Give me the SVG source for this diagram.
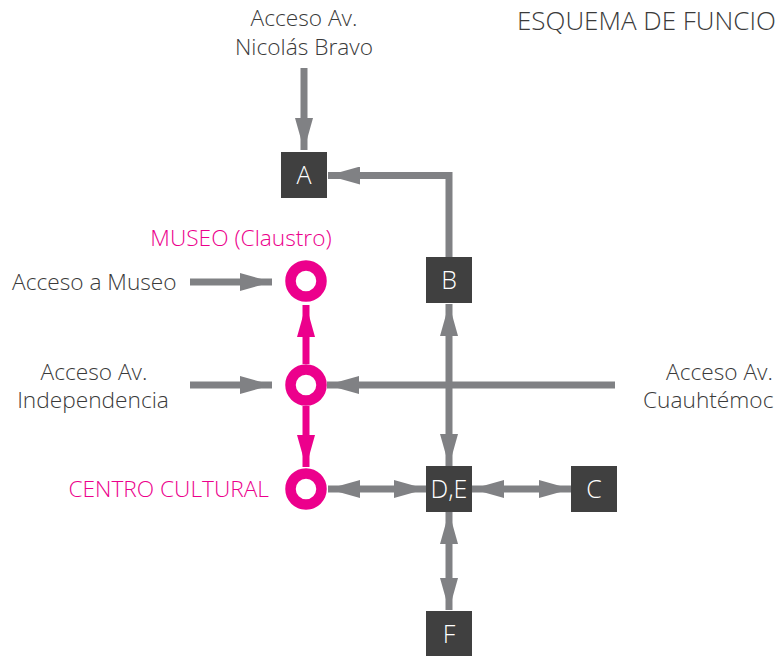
<svg xmlns="http://www.w3.org/2000/svg" width="782" height="656" viewBox="0 0 782 656">
<defs>
<style>
.lbl{font-family:"Open Sans","Noto Sans","DejaVu Sans",sans-serif;font-weight:300;font-size:22.7px;fill:#3a3a3a}
.pk{fill:#ec008c}
.box{fill:#404040}
.bt{font-family:"Open Sans","Noto Sans","DejaVu Sans",sans-serif;font-weight:300;font-size:25px;fill:#ffffff;text-anchor:middle}
.g{stroke:#808184;stroke-width:7;fill:none}
.gp{stroke:#ec008c;stroke-width:7;fill:none}
.ring{fill:none;stroke:#ec008c;stroke-width:10.5}
</style>
<marker id="ag" viewBox="0 0 32 18" refX="32" refY="9" markerWidth="32" markerHeight="18" markerUnits="userSpaceOnUse" orient="auto-start-reverse">
<path d="M0,0 L32,9 L0,18 Z" fill="#808184"/>
</marker>
<marker id="ap" viewBox="0 0 32 18" refX="32" refY="9" markerWidth="32" markerHeight="18" markerUnits="userSpaceOnUse" orient="auto-start-reverse">
<path d="M0,0 L32,9 L0,18 Z" fill="#ec008c"/>
</marker>
</defs>
<rect width="782" height="656" fill="#ffffff"/>

<text class="lbl" x="517" y="30" style="font-size:26px">ESQUEMA DE FUNCIO</text>

<g id="connectors">
<path class="g" d="M304,68 L304,150" marker-end="url(#ag)"/>
<path class="g" d="M449,258 L449,175.5 L328,175.5" marker-end="url(#ag)"/>
<path class="g" d="M190,282 L272,282" marker-end="url(#ag)"/>
<path class="g" d="M190,385 L272,385" marker-end="url(#ag)"/>
<path class="g" d="M615,385 L327,385" marker-end="url(#ag)"/>
<path class="g" d="M449,304 L449,466" marker-start="url(#ag)" marker-end="url(#ag)"/>
<path class="g" d="M328,489 L426,489" marker-start="url(#ag)" marker-end="url(#ag)"/>
<path class="g" d="M472,489 L571,489" marker-start="url(#ag)" marker-end="url(#ag)"/>
<path class="g" d="M449,512 L449,610" marker-start="url(#ag)" marker-end="url(#ag)"/>
<path class="gp" d="M306,364 L306,305" marker-end="url(#ap)"/>
<path class="gp" d="M306,406 L306,467" marker-end="url(#ap)"/>
</g>

<g id="label-nicolas">
<text class="lbl" x="304" y="26" text-anchor="middle">Acceso Av.</text>
<text class="lbl" x="304" y="55" text-anchor="middle">Nicolás Bravo</text>
</g>
<g id="label-acceso-museo">
<text class="lbl" x="12" y="290">Acceso a Museo</text>
</g>
<g id="label-independencia">
<text class="lbl" x="94" y="380" text-anchor="middle">Acceso Av.</text>
<text class="lbl" x="93" y="408" text-anchor="middle">Independencia</text>
</g>
<g id="label-cuauhtemoc">
<text class="lbl" x="666" y="380">Acceso Av.</text>
<text class="lbl" x="643" y="408">Cuauhtémoc</text>
</g>

<g id="node-A"><rect class="box" x="281" y="152" width="46" height="46"/><text class="bt" x="304" y="184">A</text></g>
<g id="node-B"><rect class="box" x="426" y="257" width="46" height="46"/><text class="bt" x="449" y="289">B</text></g>
<g id="node-DE"><rect class="box" x="426" y="466" width="46" height="46"/><text class="bt" x="449" y="498">D,E</text></g>
<g id="node-C"><rect class="box" x="571" y="466" width="46" height="46"/><text class="bt" x="594" y="498">C</text></g>
<g id="node-F"><rect class="box" x="426" y="611" width="46" height="46"/><text class="bt" x="449" y="643">F</text></g>

<g id="node-museo">
<circle class="ring" cx="306" cy="281" r="15.5"/>
<text class="lbl pk" x="241" y="246" text-anchor="middle">MUSEO (Claustro)</text>
</g>
<g id="node-independencia">
<circle class="ring" cx="306" cy="385" r="15.5"/>
</g>
<g id="node-centro">
<circle class="ring" cx="306" cy="489" r="15.5"/>
<text class="lbl pk" x="269" y="497" text-anchor="end">CENTRO CULTURAL</text>
</g>
</svg>
